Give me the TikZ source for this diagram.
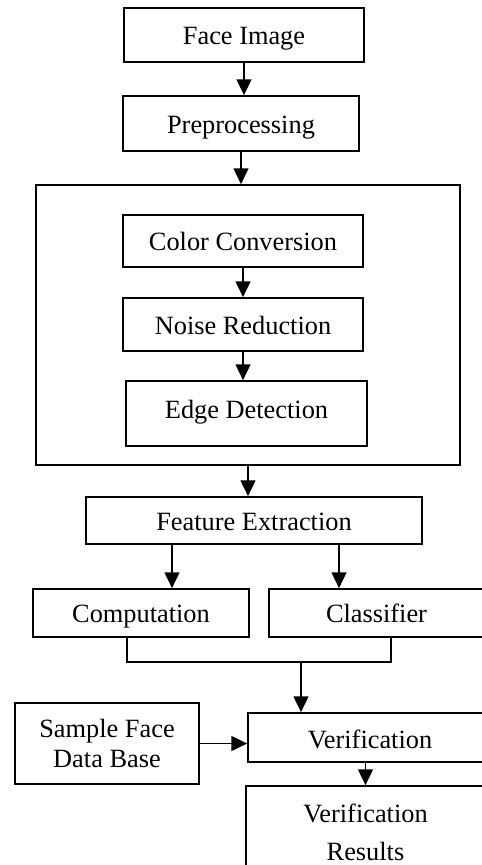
\documentclass[tikz,border=0pt]{standalone}
\usepackage{fontspec}
\setmainfont{Liberation Serif}
\usetikzlibrary{arrows.meta,calc}
\tikzset{>={Triangle[length=9pt,width=8.5pt]}}

\begin{document}
\begin{tikzpicture}[x=0.02cm,y=-0.02cm,font=\fontsize{15}{17}\selectfont,
    block/.style={draw,line width=1pt,inner sep=0pt,text height=13pt,text depth=2pt},
    twoline/.style={draw,line width=1pt,inner sep=0pt,align=center},
    flow/.style={->,line width=0.9pt}]
    \clip (0,0) rectangle (482,865);
    % main chain
    \node[block,minimum width=4.8cm,minimum height=1.08cm] (face) at (244,35) {Face Image};
    \node[block,minimum width=4.72cm,minimum height=1.1cm] (prep) at (241,123.5) {Preprocessing};
    \node[draw,line width=1pt,minimum width=8.48cm,minimum height=5.6cm] (pre) at (248,325) {};
    \node[block,minimum width=4.8cm,minimum height=1.04cm] (color) at (243,241) {Color Conversion};
    \node[block,minimum width=4.8cm,minimum height=1.06cm] (noise) at (243,324.5) {Noise Reduction};
    \node[block,text depth=7pt,minimum width=4.82cm,minimum height=1.3cm] (edge) at (246.5,413.5) {Edge Detection};
    \node[block,minimum width=6.72cm,minimum height=0.94cm] (feat) at (254,520.5) {Feature Extraction};
    \node[block,minimum width=4.32cm,minimum height=0.96cm] (comp) at (141,613) {Computation};
    \node[block,minimum width=4.3cm,minimum height=0.96cm] (class) at (376.5,613) {Classifier};
    \node[block,text height=14pt,minimum width=4.88cm,minimum height=0.98cm] (verif) at (370,737.5) {Verification};
    \node[twoline,minimum width=3.68cm,minimum height=1.62cm] (sample) at (107,743.5) {Sample Face\\Data Base};
    \node[twoline,font=\fontsize{15}{22}\selectfont,minimum width=4.78cm,minimum height=1.86cm] (result) at (365.5,832.5) {Verification\\Results};
    \coordinate (fl) at ($(feat.south)+(-82,0)$);
    \coordinate (fr) at ($(feat.south)+(85,0)$);
    \coordinate (cl) at ($(comp.south)+(-14,0)$);
    \coordinate (cr) at ($(class.south)+(14.5,0)$);
    \coordinate (join) at (301,662);

    \draw[flow] (face.south) -- (face.south |- prep.north);
    \draw[flow] (prep.south) -- (prep.south |- pre.north);
    \draw[flow] (color.south) -- (color.south |- noise.north);
    \draw[flow] (noise.south) -- (noise.south |- edge.north);
    \draw[flow] (pre.south) -- (pre.south |- feat.north);
    \draw[flow] (fl) -- (fl |- comp.north);
    \draw[flow] (fr) -- (fr |- class.north);
    \draw[line width=0.9pt] (cl) |- (join) -| (cr);
    \draw[flow] (join) -- (join |- verif.north);
    \draw[flow] (sample.east) -- (verif.west |- sample.east);
    \draw[flow] (result.north |- verif.south) -- (result.north);
\end{tikzpicture}
\end{document}
